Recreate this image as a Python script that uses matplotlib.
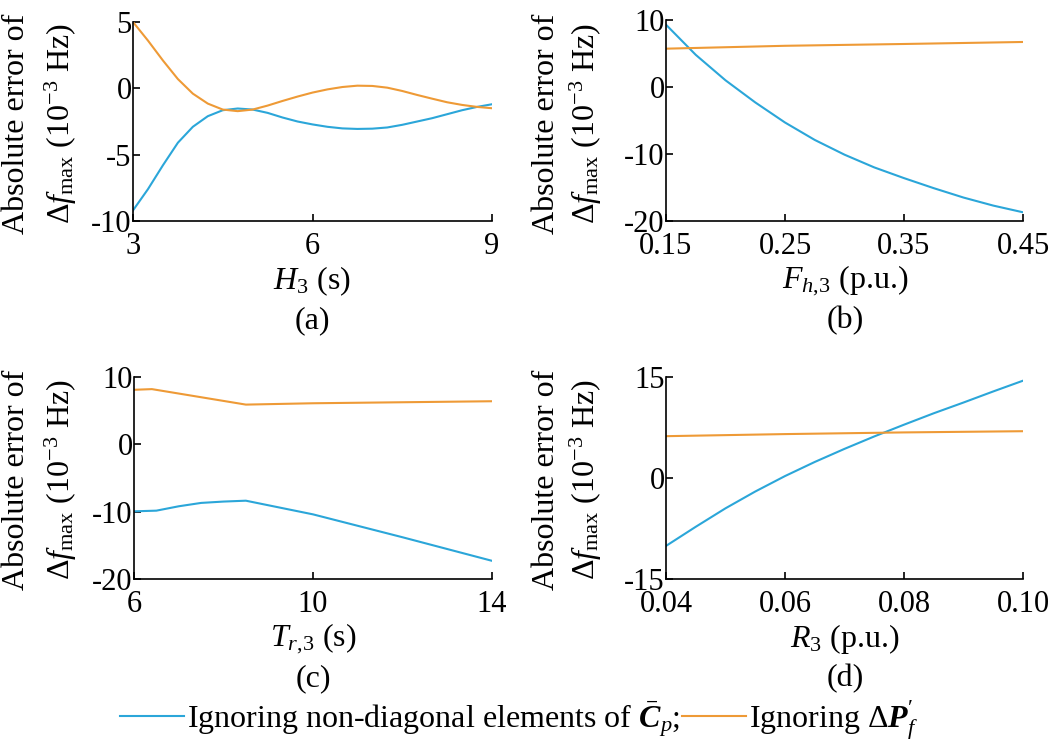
import matplotlib
matplotlib.use("Agg")
import matplotlib.pyplot as plt
from matplotlib.lines import Line2D
from matplotlib.ticker import FormatStrFormatter

plt.rcParams['font.family'] = ['Liberation Serif', 'DejaVu Serif']
plt.rcParams['mathtext.fontset'] = 'custom'
plt.rcParams['mathtext.rm'] = 'Liberation Serif'
plt.rcParams['mathtext.it'] = 'Liberation Serif:italic'
plt.rcParams['mathtext.bf'] = 'Liberation Serif:bold'
try:
    plt.rcParams['mathtext.bfit'] = 'Liberation Serif:italic:bold'
except KeyError:
    pass
plt.rcParams['axes.unicode_minus'] = False

BLUE = '#2ba6d9'
ORANGE = '#ee9a36'

# ---------------- data ----------------
# (a) H3 (s)
h3 = [3.0, 3.25, 3.5, 3.75, 4.0, 4.25, 4.5, 4.75, 5.0, 5.25, 5.5, 5.75, 6.0,
      6.25, 6.5, 6.75, 7.0, 7.25, 7.5, 7.75, 8.0, 8.25, 8.5, 8.75, 9.0]
a_blue = [-9.2, -7.6, -5.8, -4.1, -2.9, -2.1, -1.65, -1.52, -1.6, -1.85, -2.2, -2.5, -2.72,
          -2.9, -3.02, -3.06, -3.04, -2.95, -2.75, -2.5, -2.25, -1.95, -1.65, -1.4, -1.2]
a_orange = [5.0, 3.6, 2.1, 0.7, -0.4, -1.15, -1.6, -1.72, -1.6, -1.3, -0.95, -0.62, -0.32,
            -0.08, 0.1, 0.2, 0.18, 0.05, -0.2, -0.5, -0.78, -1.05, -1.25, -1.4, -1.5]

# (b) F_h,3 (p.u.)
fh3 = [0.15, 0.175, 0.2, 0.225, 0.25, 0.275, 0.3, 0.325, 0.35, 0.375, 0.4, 0.425, 0.45]
b_blue = [9.3, 4.8, 1.0, -2.3, -5.3, -7.9, -10.1, -12.0, -13.6, -15.1, -16.5, -17.7, -18.7]
fh3_o = [0.15, 0.25, 0.35, 0.45]
b_orange = [5.72, 6.15, 6.42, 6.72]

# (c) T_r,3 (s)
tr3_b = [6.0, 6.5, 7.0, 7.5, 8.0, 8.5, 10.0, 12.0, 14.0]
c_blue = [-9.95, -9.85, -9.2, -8.7, -8.5, -8.37, -10.4, -13.8, -17.3]
tr3_o = [6.0, 6.4, 8.5, 10.0, 12.0, 14.0]
c_orange = [8.1, 8.2, 5.9, 6.1, 6.25, 6.4]

# (d) R3 (p.u.)
r3 = [0.04, 0.045, 0.05, 0.055, 0.06, 0.065, 0.07, 0.075, 0.08, 0.085, 0.09, 0.095, 0.10]
d_blue = [-10.15, -7.3, -4.55, -2.05, 0.25, 2.35, 4.3, 6.15, 7.9, 9.6, 11.2, 12.85, 14.45]
r3_o = [0.04, 0.06, 0.08, 0.10]
d_orange = [6.19, 6.5, 6.75, 6.93]

W, H = 1052, 751
fig = plt.figure(figsize=(W / 100, H / 100), dpi=100)

def px_axes(l, t, r, b):
    return fig.add_axes([l / W, 1 - b / H, (r - l) / W, (b - t) / H])

TICK_FS = 22
LAB_FS = 23

def style(ax, xlim, ylim, xt, yt, xfmt=None):
    ax.set_xlim(*xlim)
    ax.set_ylim(*ylim)
    ax.set_xticks(xt)
    ax.set_yticks(yt)
    if xfmt:
        ax.xaxis.set_major_formatter(FormatStrFormatter(xfmt))
    for s in ['top', 'right']:
        ax.spines[s].set_visible(False)
    for s in ['left', 'bottom']:
        ax.spines[s].set_linewidth(1.2)
    ax.tick_params(direction='in', length=5, width=1.2, labelsize=TICK_FS)
    ax.tick_params(axis='y', pad=1)
    ax.tick_params(axis='x', pad=8)
    ax.patch.set_alpha(0)

def ylab(x1, x2, yc):
    fig.text(x1 / W, 1 - yc / H, 'Absolute error of', rotation=90,
             ha='center', va='center', fontsize=LAB_FS)
    fig.text(x2 / W, 1 - yc / H, r'$\Delta f_{\mathrm{max}}$ (10$^{\mathrm{-3}}$ Hz)',
             rotation=90, ha='center', va='center', fontsize=LAB_FS)

def xlab(xc, yc, txt, sub):
    fig.text(xc / W, 1 - yc / H, txt, ha='center', va='center', fontsize=LAB_FS)
    fig.text(xc / W, 1 - (yc + 40) / H, sub, ha='center', va='center', fontsize=LAB_FS)

LW = 1.5

# (a)
ax = px_axes(133, 22, 492, 221)
ax.plot(h3, a_blue, color=BLUE, lw=LW)
ax.plot(h3, a_orange, color=ORANGE, lw=LW)
style(ax, (3, 9), (-10, 5), [3, 6, 9], [-10, -5, 0, 5])
ylab(17, 61, 124)
xlab(312, 281, r'$H_3$ (s)', '(a)')

# (b)
ax = px_axes(666, 20, 1023, 221)
ax.plot(fh3, b_blue, color=BLUE, lw=LW)
ax.plot(fh3_o, b_orange, color=ORANGE, lw=LW)
style(ax, (0.15, 0.45), (-20, 10), [0.15, 0.25, 0.35, 0.45], [-20, -10, 0, 10], '%.2f')
ylab(546, 586, 124)
xlab(845, 281, r'$F_{h{,}3}$ (p.u.)', '(b)')

# (c)
ax = px_axes(134, 377, 492, 579)
ax.plot(tr3_b, c_blue, color=BLUE, lw=LW)
ax.plot(tr3_o, c_orange, color=ORANGE, lw=LW)
style(ax, (6, 14), (-20, 10), [6, 10, 14], [-20, -10, 0, 10])
ylab(17, 61, 480)
xlab(313, 639, r'$T_{r{,}3}$ (s)', '(c)')

# (d)
ax = px_axes(666, 377, 1023, 578.5)
ax.plot(r3, d_blue, color=BLUE, lw=LW)
ax.plot(r3_o, d_orange, color=ORANGE, lw=LW)
style(ax, (0.04, 0.10), (-15, 15), [0.04, 0.06, 0.08, 0.10], [-15, 0, 15], '%.2f')
ylab(546, 586, 480)
xlab(845, 639, r'$R_3$ (p.u.)', '(d)')

handles = [Line2D([], [], color=BLUE, lw=LW), Line2D([], [], color=ORANGE, lw=LW)]
labels = [r'Ignoring non-diagonal elements of $\bar{\mathbfit{C}}_p$;',
          r'Ignoring $\Delta\mathbfit{P}^{\prime}_{f}$']
fig.legend(handles, labels, loc='center', bbox_to_anchor=(519 / W, 1 - 720 / H),
           ncol=2, frameon=False, fontsize=23, handlelength=2.0,
           handletextpad=0.1, columnspacing=0.05, borderpad=0)

fig.savefig('out.png', dpi=100)
